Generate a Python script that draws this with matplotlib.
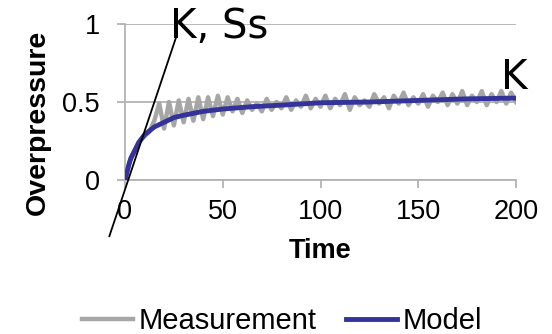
import numpy as np
import matplotlib
matplotlib.use("Agg")
import matplotlib.pyplot as plt

# ---- data ----
time_meas = np.arange(0, 200.01, 2.5)
measurement = [
    0.00, 0.12, 0.19, 0.25, 0.28, 0.31, 0.38, 0.49, 0.33, 0.50,
    0.35, 0.51, 0.37, 0.52, 0.38, 0.53, 0.39, 0.53, 0.41, 0.54,
    0.42, 0.53, 0.44, 0.52, 0.43, 0.51, 0.45, 0.49, 0.44, 0.52,
    0.45, 0.50, 0.46, 0.53, 0.45, 0.51, 0.47, 0.54, 0.46, 0.52,
    0.47, 0.54, 0.46, 0.52, 0.48, 0.55, 0.45, 0.53, 0.48, 0.51,
    0.47, 0.55, 0.49, 0.53, 0.46, 0.54, 0.49, 0.56, 0.48, 0.53,
    0.49, 0.55, 0.47, 0.54, 0.50, 0.56, 0.48, 0.55, 0.49, 0.57,
    0.48, 0.54, 0.50, 0.57, 0.48, 0.55, 0.50, 0.57, 0.49, 0.56,
    0.50,
]
time_model = [0, 1, 2, 3, 5, 7, 10, 15, 20, 25, 30, 40, 50, 65, 80, 100, 125, 150, 175, 200]
model = [0.0, 0.05, 0.10, 0.14, 0.19, 0.24, 0.29, 0.34, 0.37, 0.40, 0.415, 0.44, 0.455, 0.47, 0.48, 0.495, 0.50, 0.51, 0.52, 0.525]
tangent_x = [-8, 26]
tangent_y = [-0.36, 0.91]
x_ticks = [0, 50, 100, 150, 200]
y_ticks = [0, 0.5, 1]
y_ticklabels = ["0", "0.5", "1"]

sans = ["Liberation Sans", "DejaVu Sans"]
plt.rcParams['font.family'] = sans

fig = plt.figure(figsize=(5.52, 3.34), dpi=100)
ax = fig.add_axes([125/552, 1-180/334, (516-125)/552, (180-24)/334])

grid_c = "#b3b3b3"
ax.plot(time_meas, measurement, color="#a6a6a6", lw=3.2, label="Measurement", zorder=2, solid_joinstyle="round")
ax.plot(time_model, model, color="#333399", lw=3.5, label="Model", zorder=3)
ax.plot(tangent_x, tangent_y, color="black", lw=1.3, clip_on=False, zorder=4)

ax.set_xlim(0, 200)
ax.set_ylim(0, 1)
ax.set_xticks(x_ticks)
ax.set_yticks(y_ticks)
ax.set_yticklabels(y_ticklabels)
ax.yaxis.grid(True, color=grid_c, lw=1.3)
ax.set_axisbelow(True)
for s in ["top", "right"]:
    ax.spines[s].set_visible(False)
for s in ["left", "bottom"]:
    ax.spines[s].set_color(grid_c)
    ax.spines[s].set_linewidth(1.3)
ax.tick_params(axis="both", colors=grid_c, length=6, width=1.3, labelsize=19.5, labelcolor="black")
ax.tick_params(axis="x", pad=8)
ax.tick_params(axis="y", pad=12)

ax.text(23, 0.91, "K, Ss", fontsize=29, family="DejaVu Sans", ha="left", va="baseline", clip_on=False)
ax.text(192.5, 0.583, "K", fontsize=29, family="DejaVu Sans", ha="left", va="baseline", clip_on=False)

fig.text(320/552, 1-251/334, "Time", fontsize=19.5, fontweight="bold", ha="center", va="center")
fig.text(38/552, 1-122/334, "Overpressure", fontsize=20.5, fontweight="bold", rotation=90, ha="center", va="center")

fig.legend(loc="center", bbox_to_anchor=(282/552, 1-321/334), ncol=2, frameon=False,
           fontsize=21, handlelength=1.75, handletextpad=0.2, columnspacing=1.0, borderpad=0)

fig.savefig("out.png", dpi=100)
